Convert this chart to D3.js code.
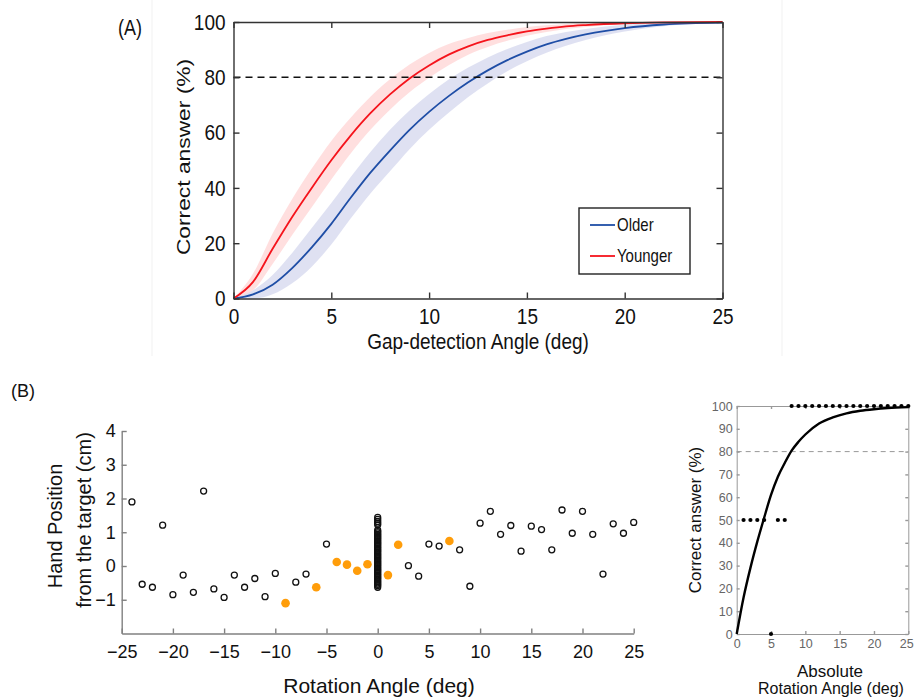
<!DOCTYPE html>
<html><head><meta charset="utf-8">
<script src="https://cdn.jsdelivr.net/npm/d3@7"></script>
<style>
body{margin:0;background:#fff}
svg{display:block;font-family:"Liberation Sans",Arial,Helvetica,sans-serif}
</style></head>
<body><svg id="c" width="914" height="697"></svg>
<script>
// ---------- Panel A data ----------
const gapAngle     = [0, 1, 2, 3, 4, 5, 6, 7, 8, 9, 10, 11, 12, 13, 14, 15, 16, 17, 18, 20, 22, 25];
const youngerMean  = [0, 6, 18, 29.5, 40, 50, 59, 67, 73.8, 79.6, 84.3, 88.2, 91.2, 93.5, 95.2, 96.6, 97.6, 98.4, 98.9, 99.55, 99.85, 100];
const youngerHigh  = [0, 9, 23.5, 36, 47, 57, 65.5, 73, 79.3, 84.6, 88.8, 92, 94.2, 96, 97.2, 98.2, 98.8, 99.3, 99.6, 99.85, 100, 100];
const youngerLow   = [0, 3, 12.5, 23, 33, 43, 52.5, 61, 68.3, 74.6, 79.8, 84.4, 88.2, 91, 93.2, 95, 96.4, 97.5, 98.2, 99.25, 99.7, 100];
const olderMean    = [0, 1.5, 5, 11, 18.5, 27, 36.5, 45.5, 53.5, 61, 67.5, 73.2, 78.2, 82.5, 86.2, 89.3, 91.9, 93.9, 95.5, 97.8, 99.1, 99.8];
const olderHigh    = [0, 3, 8.5, 16.5, 25.5, 34.5, 44, 53, 61, 68, 74, 79.2, 83.5, 87.2, 90.2, 92.8, 94.9, 96.4, 97.5, 99, 99.7, 100];
const olderLow     = [0, 0, 1.5, 5.5, 11.5, 19.5, 29, 38, 46, 54, 61, 67.2, 72.9, 77.8, 82.2, 85.8, 88.9, 91.4, 93.5, 96.6, 98.5, 99.6];
const ticksAx = [0, 5, 10, 15, 20, 25];
const ticksAy = [0, 20, 40, 60, 80, 100];
const thresholdPct = 80;
const legendLabels = ["Older", "Younger"];

// ---------- Panel B data ----------
const rotAngleOpen = [-24, -23, -22, -21, -20, -19, -18, -17, -16, -15, -14, -13, -12, -11, -10, -8, -7, -5,
                      3, 4, 5, 6, 8, 9, 10, 11, 12, 13, 14, 15, 16, 17, 18, 19, 20, 21, 22, 23, 24, 25];
const handPosOpen  = [1.90, -0.54, -0.63, 1.21, -0.85, -0.27, -0.78, 2.22, -0.68, -0.93, -0.27, -0.63, -0.37, -0.91, -0.22, -0.48, -0.24, 0.65,
                      0.01, -0.30, 0.65, 0.59, 0.48, -0.60, 1.27, 1.62, 0.94, 1.20, 0.44, 1.18, 1.08, 0.48, 1.66, 0.97, 1.62, 0.94, -0.24, 1.25, 0.97, 1.29];
const rotAngleFilled = [-9, -6, -4, -3, -2, -1, 1, 2, 7];
const handPosFilled  = [-1.10, -0.63, 0.12, 0.04, -0.14, 0.05, -0.27, 0.63, 0.74];
const handPosAtZero  = [1.44, 1.38, 1.32, 1.27, 1.22, 1.06, 1.02, 0.98, 0.94, 0.90, 0.86, 0.82, 0.78, 0.74, 0.70, 0.66,
                        0.62, 0.58, 0.54, 0.50, 0.46, 0.42, 0.38, 0.34, 0.30, 0.26, 0.22, 0.18, 0.14, 0.10, 0.06, 0.02,
                        -0.02, -0.06, -0.10, -0.14, -0.18, -0.22, -0.26, -0.30, -0.34, -0.38, -0.42, -0.46, -0.50, -0.54, -0.58, -0.63];
const ticksBx = [-25, -20, -15, -10, -5, 0, 5, 10, 15, 20, 25];
const ticksBy = [-1, 0, 1, 2, 3, 4];

// ---------- Panel C data ----------
const absAngle   = [1, 2, 3, 4, 5, 6, 7, 8, 9, 10, 11, 12, 13, 14, 15, 16, 17, 18, 19, 20, 21, 22, 23, 24, 25];
const absCorrect = [50, 50, 50, 50, 0, 50, 50, 100, 100, 100, 100, 100, 100, 100, 100, 100, 100, 100, 100, 100, 100, 100, 100, 100, 100];
const fitAngle   = [0, 1, 2, 3, 4, 5, 6, 7, 8, 9, 10, 12, 14, 16, 18, 20, 22, 25];
const fitCorrect = [0, 16, 29, 40.5, 51, 61, 69, 75, 80.4, 84.3, 87.5, 92.3, 95, 96.8, 97.9, 98.6, 99.1, 99.5];
const ticksCx = [0, 5, 10, 15, 20, 25];
const ticksCy = [0, 10, 20, 30, 40, 50, 60, 70, 80, 90, 100];

const svg = d3.select("#c");
svg.append("rect").attr("width", 914).attr("height", 697).attr("fill", "#fff");

// faint border of panel A image
svg.append("line").attr("x1", 152).attr("x2", 152).attr("y1", 0).attr("y2", 356).attr("stroke", "#f1f1f1");
svg.append("line").attr("x1", 782).attr("x2", 782).attr("y1", 0).attr("y2", 356).attr("stroke", "#f1f1f1");

function styleAxis(g, col, fs, tc) {
  g.select(".domain").attr("stroke", col).attr("stroke-width", 1.4);
  g.selectAll(".tick line").attr("stroke", col).attr("stroke-width", 1.4);
  g.selectAll(".tick text").attr("font-size", fs).attr("fill", tc).attr("font-family", "Liberation Sans, Arial, sans-serif");
  return g;
}
const fmt = d3.format("d");
const SY = 1.2; // panel A is vertically stretched in the reference

// ================= PANEL A =================
const xA = d3.scaleLinear().domain([0, 25]).range([233.5, 722.5]);
const yA = d3.scaleLinear().domain([0, 100]).range([298.5, 22]);
const gA = svg.append("g");
const idx = gapAngle.map((d, i) => i);

const band = (lo, hi) => d3.area().x(i => xA(gapAngle[i])).y0(i => yA(lo[i])).y1(i => yA(hi[i])).curve(d3.curveMonotoneX);
const line = (m) => d3.line().x(i => xA(gapAngle[i])).y(i => yA(m[i])).curve(d3.curveMonotoneX);

gA.append("path").attr("d", band(youngerLow, youngerHigh)(idx)).attr("fill", "#ffd9d9").attr("opacity", 0.85);
gA.append("path").attr("d", band(olderLow, olderHigh)(idx)).attr("fill", "#d9dcf0").attr("opacity", 0.85);
gA.append("path").attr("d", line(olderMean)(idx)).attr("fill", "none").attr("stroke", "#1f4ea6").attr("stroke-width", 1.8);
gA.append("path").attr("d", line(youngerMean)(idx)).attr("fill", "none").attr("stroke", "#f5141c").attr("stroke-width", 1.8);

gA.append("line").attr("x1", xA(0)).attr("x2", xA(25)).attr("y1", yA(thresholdPct)).attr("y2", yA(thresholdPct))
  .attr("stroke", "#111").attr("stroke-width", 1.5).attr("stroke-dasharray", "7,5");

const axB = styleAxis(gA.append("g").attr("transform", `translate(0,${yA(0)})`)
  .call(d3.axisBottom(xA).tickValues(ticksAx).tickSize(-6).tickSizeOuter(0).tickPadding(8).tickFormat(fmt)), "#333", 19, "#111");
axB.selectAll(".tick text").attr("transform", `scale(1,${SY})`);
styleAxis(gA.append("g").attr("transform", `translate(0,${yA(100)})`)
  .call(d3.axisTop(xA).tickValues(ticksAx).tickSize(-6).tickSizeOuter(0).tickFormat("")), "#333", 19, "#111");
const axL = styleAxis(gA.append("g").attr("transform", `translate(${xA(0)},0)`)
  .call(d3.axisLeft(yA).tickValues(ticksAy).tickSize(-6).tickSizeOuter(0).tickPadding(8).tickFormat(fmt)), "#333", 19, "#111");
axL.selectAll(".tick text").attr("transform", `scale(1,${SY})`);
styleAxis(gA.append("g").attr("transform", `translate(${xA(25)},0)`)
  .call(d3.axisRight(yA).tickValues(ticksAy).tickSize(-6).tickSizeOuter(0).tickFormat("")), "#333", 19, "#111");

gA.append("text").attr("transform", `translate(478,349) scale(1,${SY})`).attr("text-anchor", "middle").attr("font-size", 19).attr("fill", "#111").text("Gap-detection Angle (deg)");
gA.append("text").attr("transform", `translate(190,157) rotate(-90) scale(${SY},1)`).attr("text-anchor", "middle").attr("font-size", 19).attr("fill", "#111").text("Correct answer (%)");
gA.append("text").attr("transform", `translate(118,35) scale(1,${SY})`).attr("font-size", 18).attr("fill", "#111").text("(A)");

// legend
const lg = gA.append("g");
lg.append("rect").attr("x", 579).attr("y", 208).attr("width", 111).attr("height", 66).attr("fill", "#fff").attr("stroke", "#222").attr("stroke-width", 1.4);
[["#1f4ea6", 225], ["#f5141c", 256]].forEach((c, i) => {
  lg.append("line").attr("x1", 590).attr("x2", 615).attr("y1", c[1]).attr("y2", c[1]).attr("stroke", c[0]).attr("stroke-width", 1.8);
  lg.append("text").attr("transform", `translate(617,${c[1] + 6}) scale(1,${SY})`).attr("font-size", 15).attr("fill", "#111").text(legendLabels[i]);
});

// ================= PANEL B =================
const xB = d3.scaleLinear().domain([-25, 25]).range([121.7, 633.7]);
const yB = d3.scaleLinear().domain([-2, 4]).range([633.5, 431]);
const gB = svg.append("g");
styleAxis(gB.append("g").attr("transform", `translate(0,${yB(-2)})`)
  .call(d3.axisBottom(xB).tickValues(ticksBx).tickSize(-5).tickSizeOuter(0).tickPadding(12).tickFormat(fmt)), "#808080", 18, "#111");
styleAxis(gB.append("g").attr("transform", `translate(${xB(-25)},0)`)
  .call(d3.axisLeft(yB).tickValues(ticksBy).tickSize(-5).tickSizeOuter(0).tickPadding(6).tickFormat(fmt)), "#808080", 18, "#111");

gB.selectAll("circle.open").data(rotAngleOpen).join("circle").attr("class", "open")
  .attr("cx", d => xB(d)).attr("cy", (d, i) => yB(handPosOpen[i])).attr("r", 3)
  .attr("fill", "none").attr("stroke", "#111").attr("stroke-width", 1.3);
gB.selectAll("circle.zero").data(handPosAtZero).join("circle").attr("class", "zero")
  .attr("cx", xB(0)).attr("cy", d => yB(d)).attr("r", 3)
  .attr("fill", "none").attr("stroke", "#111").attr("stroke-width", 1.3);
gB.selectAll("circle.fill").data(rotAngleFilled).join("circle").attr("class", "fill")
  .attr("cx", d => xB(d)).attr("cy", (d, i) => yB(handPosFilled[i])).attr("r", 4.3)
  .attr("fill", "#ff9d0a");

gB.append("text").attr("x", 379).attr("y", 693).attr("text-anchor", "middle").attr("font-size", 21).attr("fill", "#111").text("Rotation Angle (deg)");
gB.append("text").attr("transform", "translate(62,526) rotate(-90)").attr("text-anchor", "middle").attr("font-size", 20).attr("fill", "#111").text("Hand Position");
gB.append("text").attr("transform", "translate(91,520) rotate(-90)").attr("text-anchor", "middle").attr("font-size", 20).attr("fill", "#111").text("from the target (cm)");
gB.append("text").attr("x", 11).attr("y", 397).attr("font-size", 18).attr("fill", "#111").text("(B)");

// ================= PANEL C =================
const xC = d3.scaleLinear().domain([0, 25]).range([736.7, 908.3]);
const yC = d3.scaleLinear().domain([0, 100]).range([634, 406]);
const gC = svg.append("g");
const axCB = styleAxis(gC.append("g").attr("transform", `translate(0,${yC(0)})`)
  .call(d3.axisBottom(xC).tickValues(ticksCx).tickSize(-3).tickSizeOuter(0).tickPadding(5).tickFormat(fmt)), "#999", 12.5, "#666");
axCB.selectAll(".tick text").filter(d => d === 25).attr("dx", -2);
styleAxis(gC.append("g").attr("transform", `translate(0,${yC(100)})`)
  .call(d3.axisTop(xC).tickValues(ticksCx).tickSize(-3).tickSizeOuter(0).tickFormat("")), "#999", 12.5, "#666");
styleAxis(gC.append("g").attr("transform", `translate(${xC(0)},0)`)
  .call(d3.axisLeft(yC).tickValues(ticksCy).tickSize(-3).tickSizeOuter(0).tickPadding(4).tickFormat(fmt)), "#999", 12.5, "#666");
styleAxis(gC.append("g").attr("transform", `translate(${xC(25)},0)`)
  .call(d3.axisRight(yC).tickValues(ticksCy).tickSize(-3).tickSizeOuter(0).tickFormat("")), "#999", 12.5, "#666");
gC.selectAll(".domain").attr("stroke-width", 1);

gC.append("line").attr("x1", xC(0)).attr("x2", xC(25)).attr("y1", yC(thresholdPct)).attr("y2", yC(thresholdPct))
  .attr("stroke", "#999").attr("stroke-width", 1).attr("stroke-dasharray", "5,4");
gC.append("path").attr("d", d3.line().x(i => xC(fitAngle[i])).y(i => yC(fitCorrect[i])).curve(d3.curveMonotoneX)(fitAngle.map((d, i) => i)))
  .attr("fill", "none").attr("stroke", "#000").attr("stroke-width", 2.4);
gC.selectAll("circle.pt").data(absAngle).join("circle").attr("class", "pt")
  .attr("cx", d => xC(d)).attr("cy", (d, i) => yC(absCorrect[i])).attr("r", 2.1).attr("fill", "#000");

gC.append("text").attr("transform", "translate(701,520) rotate(-90)").attr("text-anchor", "middle").attr("font-size", 17).attr("fill", "#111").text("Correct answer (%)");
gC.append("text").attr("x", 830).attr("y", 677).attr("text-anchor", "middle").attr("font-size", 17).attr("fill", "#111").text("Absolute");
gC.append("text").attr("x", 831).attr("y", 694).attr("text-anchor", "middle").attr("font-size", 16).attr("fill", "#111").text("Rotation Angle (deg)");
</script></body></html>
